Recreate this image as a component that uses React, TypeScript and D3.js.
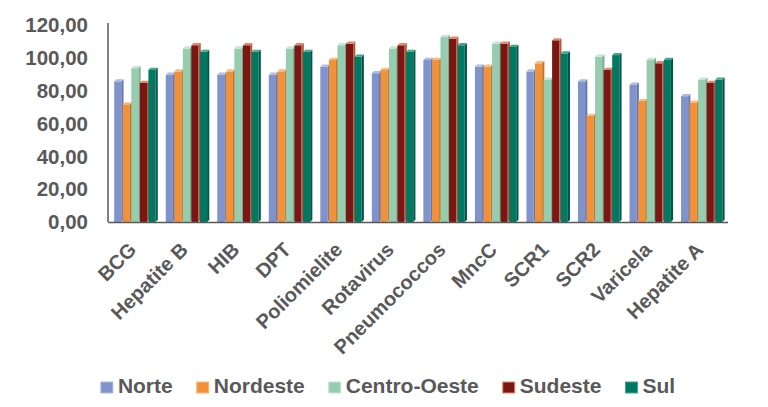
import React from "react";
import * as d3 from "d3";

const categories = ["BCG", "Hepatite B", "HIB", "DPT", "Poliomielite", "Rotavirus", "Pneumococcos", "MncC", "SCR1", "SCR2", "Varicela", "Hepatite A"];
const seriesNames = ["Norte", "Nordeste", "Centro-Oeste", "Sudeste", "Sul"];
const norte = [87, 91, 91, 91, 96, 92, 100, 96, 93, 87, 85, 78];
const nordeste = [73, 93, 93, 93, 100, 94, 100, 96, 98, 66, 75, 74];
const centroOeste = [95, 107, 107, 107, 109, 107, 114, 110, 88, 102, 100, 88];
const sudeste = [86, 109, 109, 109, 110, 109, 113, 110, 112, 94, 98, 86];
const sul = [94, 105, 105, 105, 102, 105, 109, 108, 104, 103, 100, 88];
const yTicks = [0, 20, 40, 60, 80, 100, 120];

const seriesValues = [norte, nordeste, centroOeste, sudeste, sul];
const palette = [
  { front: "#8093CB", top: "#AEBBE3", side: "#6375B0" },
  { front: "#F0923C", top: "#F8BA7E", side: "#C87324" },
  { front: "#96CDAE", top: "#C4E6D2", side: "#76AE8F" },
  { front: "#7B1712", top: "#DE8A6A", side: "#B9563B" },
  { front: "#007862", top: "#3EA78D", side: "#005746" },
];

const W = 768;
const H = 407;
const FONT = "'Liberation Sans', Arial, sans-serif";
const TEXT = "#595959";

function measure(text: string, size: number): number {
  if (typeof document === "undefined") return text.length * size * 0.6;
  const c = document.createElement("canvas");
  const ctx = c.getContext("2d");
  if (!ctx) return text.length * size * 0.6;
  ctx.font = `bold ${size}px ${FONT}`;
  return ctx.measureText(text).width;
}

export default function App() {
  const y = d3.scaleLinear().domain([0, 120]).range([222, 25]);
  const x0 = d3.scaleBand<string>().domain(categories).range([108, 730]).paddingInner(0.17).paddingOuter(0.12);
  const x1 = d3.scaleBand<string>().domain(seriesNames).range([0, x0.bandwidth()]).padding(0);
  const d = 2.2;
  const bw = x1.bandwidth() - 1.4;
  const fmt = (v: number) => d3.format(".2f")(v).replace(".", ",");

  // legend layout
  const legendSize = 21;
  const sq = 12;
  const gapText = 5;
  const gapItem = 24;
  const widths = seriesNames.map((s) => sq + gapText + measure(s, legendSize));
  const total = d3.sum(widths) + gapItem * (seriesNames.length - 1);
  let lx = 388 - total / 2;
  const legendPos = widths.map((w) => {
    const p = lx;
    lx += w + gapItem;
    return p;
  });

  return (
    <svg width={W} height={H} style={{ position: "absolute", left: 0, top: 0, background: "#fff" }} fontFamily={FONT}>
      {/* bars */}
      {categories.map((cat, ci) => (
        <g key={cat} transform={`translate(${x0(cat)},0)`}>
          {seriesNames.map((s, si) => {
            const v = seriesValues[si][ci];
            const bx = x1(s) as number;
            const top = y(v) + d;
            const base = y(0);
            const c = palette[si];
            return (
              <g key={s}>
                <rect x={bx} y={top} width={bw} height={base - top} fill={c.front} />
                <polygon
                  points={`${bx + bw},${top} ${bx + bw + d},${top - d} ${bx + bw + d},${base - d} ${bx + bw},${base}`}
                  fill={c.side}
                />
                <polygon
                  points={`${bx},${top} ${bx + d},${top - d} ${bx + bw + d},${top - d} ${bx + bw},${top}`}
                  fill={c.top}
                />
              </g>
            );
          })}
        </g>
      ))}
      {/* axes */}
      <line x1={108} x2={108} y1={y(120) - 2} y2={y(0)} stroke="#595959" strokeWidth={1.5} />
      <line x1={108} x2={728} y1={y(0) + 0.5} y2={y(0) + 0.5} stroke="#595959" strokeWidth={1.5} />
      {yTicks.map((t) => (
        <text key={t} x={88} y={y(t)} dy="0.35em" textAnchor="end" fontSize={20.5} fontWeight="bold" fill={TEXT}>
          {fmt(t)}
        </text>
      ))}
      {categories.map((cat) => {
        const cx = (x0(cat) as number) + x0.bandwidth() / 2 + 2;
        return (
          <text
            key={cat}
            transform={`translate(${cx},251) rotate(-45)`}
            textAnchor="end"
            fontSize={20}
            fontWeight="bold"
            fill={TEXT}
          >
            {cat}
          </text>
        );
      })}
      {/* legend */}
      {seriesNames.map((s, i) => (
        <g key={s} transform={`translate(${legendPos[i]},0)`}>
          <rect x={0} y={382} width={sq} height={sq - 1} fill={palette[i].front} stroke={i === 3 ? "#E08A68" : palette[i].top} strokeWidth={1} />
          <text x={sq + gapText} y={393} fontSize={legendSize} fontWeight="bold" fill={TEXT}>
            {s}
          </text>
        </g>
      ))}
    </svg>
  );
}
